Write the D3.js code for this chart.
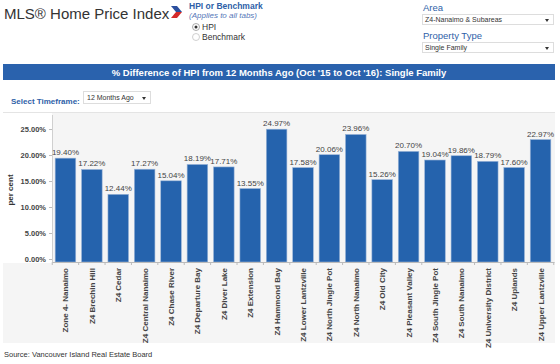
<!DOCTYPE html>
<html><head><meta charset="utf-8">
<script src="https://cdn.jsdelivr.net/npm/d3@7"></script>
<style>
body{margin:0;background:#fff;}
svg{font-family:Arial,"Liberation Sans",sans-serif;}
</style></head>
<body><svg id="c" width="560" height="364"></svg>
<script>
const categories = ["Zone 4- Nanaimo","Z4 Brechin Hill","Z4 Cedar","Z4 Central Nanaimo","Z4 Chase River","Z4 Departure Bay","Z4 Diver Lake","Z4 Extension","Z4 Hammond Bay","Z4 Lower Lantzville","Z4 North Jingle Pot","Z4 North Nanaimo","Z4 Old City","Z4 Pleasant Valley","Z4 South Jingle Pot","Z4 South Nanaimo","Z4 University District","Z4 Uplands","Z4 Upper Lantzville"];
const values = [19.40,17.22,12.44,17.27,15.04,18.19,17.71,13.55,24.97,17.58,20.06,23.96,15.26,20.70,19.04,19.86,18.79,17.60,22.97];
const yTicks = [0,5,10,15,20,25];

const svg = d3.select("#c");
const blue = "#3a5ea8";

// header
svg.append("text").attr("x",4).attr("y",19).attr("font-size",15).attr("fill","#333").text("MLS® Home Price Index");
svg.append("path").attr("d","M171,6 L177,6 L182,12 L176,12 Z").attr("fill","#2b4f9e");
svg.append("path").attr("d","M176,12 L182,12 L177,18 L171,18 Z").attr("fill","#d42a2a");
svg.append("text").attr("x",189).attr("y",9).attr("font-size",8.5).attr("font-weight","bold").attr("fill","#2f5fa8").text("HPI or Benchmark");
svg.append("text").attr("x",189).attr("y",18).attr("font-size",8).attr("font-style","italic").attr("fill","#5577b8").text("(Applies to all tabs)");
svg.append("circle").attr("cx",196).attr("cy",27).attr("r",3.5).attr("fill","#fff").attr("stroke","#888").attr("stroke-width",0.7);
svg.append("circle").attr("cx",196).attr("cy",27).attr("r",1.5).attr("fill","#333");
svg.append("text").attr("x",202).attr("y",30).attr("font-size",8.5).attr("fill","#333").text("HPI");
svg.append("circle").attr("cx",196).attr("cy",37).attr("r",3.5).attr("fill","#fff").attr("stroke","#bbb").attr("stroke-width",0.7);
svg.append("text").attr("x",202).attr("y",40).attr("font-size",8.5).attr("fill","#333").text("Benchmark");

svg.append("text").attr("x",423).attr("y",11).attr("font-size",9.5).attr("fill","#2f5fa8").text("Area");
svg.append("rect").attr("x",422.5).attr("y",14.5).attr("width",131).attr("height",10).attr("fill","#fff").attr("stroke","#ddd");
svg.append("text").attr("x",425).attr("y",22).attr("font-size",7).attr("fill","#333").text("Z4-Nanaimo & Subareas");
svg.append("path").attr("d","M545,19 L549,19 L547,22 Z").attr("fill","#333");
svg.append("text").attr("x",423).attr("y",39).attr("font-size",9.5).attr("fill","#2f5fa8").text("Property Type");
svg.append("rect").attr("x",422.5).attr("y",42.5).attr("width",131).attr("height",10).attr("fill","#fff").attr("stroke","#ddd");
svg.append("text").attr("x",425).attr("y",50).attr("font-size",7).attr("fill","#333").text("Single Family");
svg.append("path").attr("d","M545,47 L549,47 L547,50 Z").attr("fill","#333");

// title bar
svg.append("rect").attr("x",3).attr("y",64).attr("width",552).attr("height",16).attr("fill","#2a62ad");
svg.append("text").attr("x",279).attr("y",75.5).attr("text-anchor","middle").attr("font-size",9.5).attr("font-weight","bold").attr("fill","#fff")
  .text("% Difference of HPI from 12 Months Ago (Oct '15 to Oct '16): Single Family");

svg.append("text").attr("x",11).attr("y",104).attr("font-size",8).attr("font-weight","bold").attr("fill","#2f5fa8").text("Select Timeframe:");
svg.append("rect").attr("x",83.5).attr("y",91.5).attr("width",67).attr("height",12).attr("fill","#fff").attr("stroke","#ddd");
svg.append("text").attr("x",87).attr("y",100).attr("font-size",7).attr("fill","#333").text("12 Months Ago");
svg.append("path").attr("d","M142,97 L146,97 L144,100 Z").attr("fill","#333");

// chart panel
const L=52, R=554, T=115, B=262;
svg.append("rect").attr("x",3).attr("y",112).attr("width",552).attr("height",231).attr("fill","#f5f5f5");
svg.append("rect").attr("x",3).attr("y",112).attr("width",L-3).attr("height",151).attr("fill","#fff");
svg.append("line").attr("x1",3).attr("x2",555).attr("y1",112.5).attr("y2",112.5).attr("stroke","#e4e4e4");

const x = d3.scaleBand().domain(categories).range([L,R]).paddingInner(0.22).paddingOuter(0.12);
const y = d3.scaleLinear().domain([0,27.7]).range([B-3,T]);

svg.append("line").attr("x1",L+0.5).attr("x2",L+0.5).attr("y1",T).attr("y2",B).attr("stroke","#d0d0d0");

const ya = svg.append("g").attr("transform",`translate(${L},0)`)
  .call(d3.axisLeft(y).tickValues(yTicks).tickFormat(d=>d.toFixed(2)+"%").tickSize(3));
ya.select(".domain").remove();
ya.selectAll("line").attr("stroke","#bbb");
ya.selectAll("text").attr("font-size",7.5).attr("font-weight","bold").attr("fill","#444").attr("font-family","Arial, sans-serif");

svg.append("text").attr("transform","translate(13,190) rotate(-90)").attr("text-anchor","middle").attr("font-size",8).attr("font-weight","bold").attr("fill","#333").text("per cent");

svg.selectAll(".bar").data(values).enter().append("rect")
  .attr("x",(d,i)=>x(categories[i])).attr("width",x.bandwidth())
  .attr("y",d=>y(d)).attr("height",d=>B-y(d))
  .attr("fill",blue).attr("fill","#2563ad").attr("stroke","#9ab5d8").attr("stroke-width",0.6);

svg.selectAll(".vl").data(values).enter().append("text")
  .attr("x",(d,i)=>x(categories[i])+x.bandwidth()/2).attr("y",d=>y(d)-3)
  .attr("text-anchor","middle").attr("font-size",8).attr("fill","#444").text(d=>d.toFixed(2)+"%");

// x axis
const xa = svg.append("g").attr("transform",`translate(0,${B})`)
  .call(d3.axisBottom(x).tickSize(0).tickFormat(""));
xa.select(".domain").attr("stroke","#bbb");
const step = x.step();
svg.selectAll(".xt").data(d3.range(categories.length+1)).enter().append("line")
  .attr("x1",i=>L+x.paddingOuter()*step - x.paddingInner()*step/2 + i*step).attr("x2",i=>L+x.paddingOuter()*step - x.paddingInner()*step/2 + i*step)
  .attr("y1",B).attr("y2",B+3).attr("stroke","#bbb");

svg.selectAll(".cl").data(categories).enter().append("text")
  .attr("transform",d=>`translate(${x(d)+x.bandwidth()/2+3},268) rotate(-90)`)
  .attr("text-anchor","end").attr("font-size",8).attr("font-weight","bold").attr("fill","#444").text(d=>d);

svg.append("text").attr("x",4).attr("y",357).attr("font-size",7.5).attr("fill","#333").text("Source: Vancouver Island Real Estate Board");
</script></body></html>
